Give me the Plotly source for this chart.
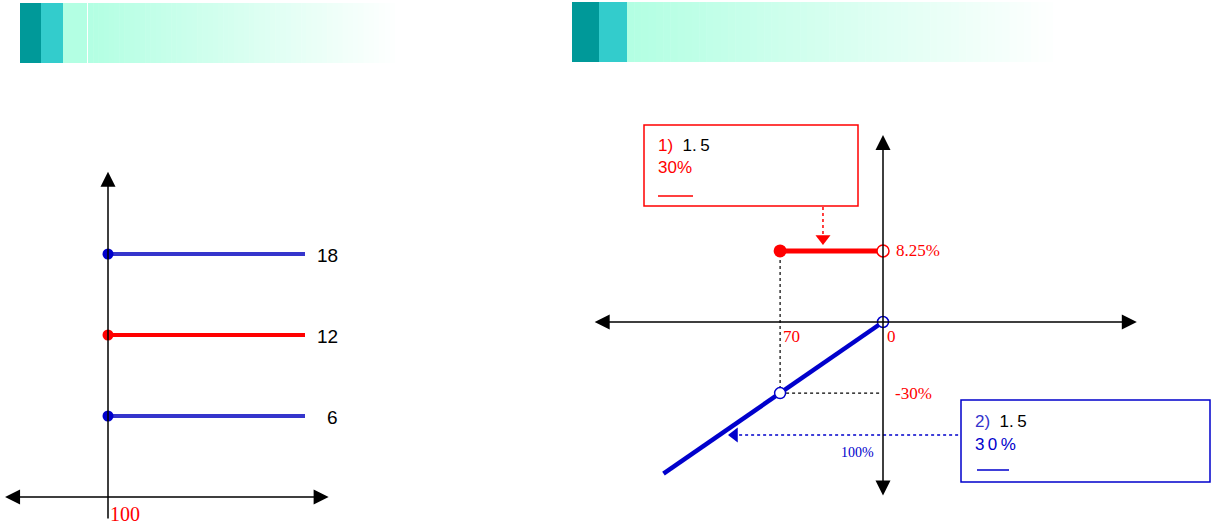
import plotly.graph_objects as go

W, H = 1215, 529

# ---- left panel data (schematic) ----
left_levels = [18, 12, 6]
left_line_colors = ['#3535CC', '#FF0000', '#3535CC']
left_dot_colors = ['#0000CC', '#FF0000', '#0000CC']
left_level_labels = ['18', '12', '6']
left_x_start = 100
left_x_end = 200
left_x_label = '100'
left_axis_x = [47, 212]      # horizontal axis extent
left_axis_y = [-1.7, 24.1]   # vertical axis extent

# ---- right panel data (schematic) ----
red_seg_x = [-30, 0]
red_seg_y = [30, 30]
blue_line_x = [0, -64]
blue_line_y = [0, -64]
blue_pt_x = [0, -30]
blue_pt_y = [0, -30]
right_axis_x = [-84.5, 74]
right_axis_y = [-73.8, 78.9]
guide_v_y = [26.2, -30]
guide_h_x = [-30, -1]
red_arrow_x = -17.5
red_arrow_y = [48.5, 35.2]
blue_arrow_y = -47.7
blue_arrow_x = [21.9, -43.3]
right_labels = {'ceil': '8.25%', 'k': '70', 'zero': '0', 'floor': '-30%', 'full': '100%'}

SERIF = 'Liberation Serif'
SANS = 'Liberation Sans'


def fx(p):
    return p / W


def fy(p):
    return 1 - p / H


fig = go.Figure()

# left panel: horizontal lines with start dots
for lv, lc, dc in zip(left_levels, left_line_colors, left_dot_colors):
    fig.add_trace(go.Scatter(x=[left_x_start, left_x_end], y=[lv, lv], mode='lines',
                             line=dict(color=lc, width=4), xaxis='x', yaxis='y'))
    fig.add_trace(go.Scatter(x=[left_x_start], y=[lv], mode='markers',
                             marker=dict(color=dc, size=11), xaxis='x', yaxis='y'))

# right panel: blue payoff line, red cap segment
fig.add_trace(go.Scatter(x=blue_line_x, y=blue_line_y, mode='lines',
                         line=dict(color='#0000CC', width=4.5), xaxis='x2', yaxis='y2'))
fig.add_trace(go.Scatter(x=[-30, -30], y=guide_v_y, mode='lines',
                         line=dict(color='black', width=1.2, dash='dot'), xaxis='x2', yaxis='y2'))
fig.add_trace(go.Scatter(x=guide_h_x, y=[-30, -30], mode='lines',
                         line=dict(color='black', width=1.2, dash='dot'), xaxis='x2', yaxis='y2'))
fig.add_trace(go.Scatter(x=red_seg_x, y=red_seg_y, mode='lines',
                         line=dict(color='#FF0000', width=5), xaxis='x2', yaxis='y2'))
fig.add_trace(go.Scatter(x=[red_seg_x[0]], y=[red_seg_y[0]], mode='markers',
                         marker=dict(color='#FF0000', size=13), xaxis='x2', yaxis='y2'))
fig.add_trace(go.Scatter(x=[red_seg_x[1]], y=[red_seg_y[1]], mode='markers',
                         marker=dict(color='white', size=12, line=dict(color='#FF0000', width=1.5)),
                         xaxis='x2', yaxis='y2'))
fig.add_trace(go.Scatter(x=blue_pt_x, y=blue_pt_y, mode='markers',
                         marker=dict(color='white', size=11, line=dict(color='#0000CC', width=1.5)),
                         xaxis='x2', yaxis='y2'))

# dotted pointer arrows
fig.add_trace(go.Scatter(x=[red_arrow_x, red_arrow_x], y=red_arrow_y, mode='lines',
                         line=dict(color='#FF0000', width=1.5, dash='dot'), xaxis='x2', yaxis='y2'))
fig.add_trace(go.Scatter(x=[red_arrow_x], y=[red_arrow_y[1]], mode='markers',
                         marker=dict(symbol='triangle-down', color='#FF0000', size=13),
                         xaxis='x2', yaxis='y2'))
fig.add_trace(go.Scatter(x=blue_arrow_x, y=[blue_arrow_y, blue_arrow_y], mode='lines',
                         line=dict(color='#0000CC', width=1.5, dash='dot'), xaxis='x2', yaxis='y2'))
fig.add_trace(go.Scatter(x=[blue_arrow_x[1]], y=[blue_arrow_y], mode='markers',
                         marker=dict(symbol='triangle-left', color='#0000CC', size=13),
                         xaxis='x2', yaxis='y2'))

annotations = []


def axis_arrow(xr, yr, x, y, ax, ay, both):
    annotations.append(dict(xref=xr, yref=yr, axref=xr, ayref=yr, x=x, y=y, ax=ax, ay=ay,
                            text='', showarrow=True, arrowhead=2, arrowsize=2, arrowwidth=1.5,
                            arrowcolor='black', startarrowhead=2, startarrowsize=2,
                            arrowside='end+start' if both else 'end', standoff=0, startstandoff=0))


axis_arrow('x', 'y', left_axis_x[1], 0, left_axis_x[0], 0, True)
axis_arrow('x', 'y', left_x_start, left_axis_y[1], left_x_start, left_axis_y[0], False)
axis_arrow('x2', 'y2', right_axis_x[1], 0, right_axis_x[0], 0, True)
axis_arrow('x2', 'y2', 0, right_axis_y[1], 0, right_axis_y[0], True)

# left labels
for lv, lab in zip(left_levels, left_level_labels):
    annotations.append(dict(xref='x', yref='y', x=left_x_end, y=lv, text=lab, showarrow=False,
                            xanchor='right', xshift=35, yshift=-1,
                            font=dict(family=SANS, size=19, color='black')))
annotations.append(dict(xref='x', yref='y', x=left_x_start, y=0, text=left_x_label, showarrow=False,
                        xanchor='left', yanchor='top', xshift=0, yshift=-4,
                        font=dict(family=SERIF, size=20, color='#FF0000')))

# right labels
annotations.append(dict(xref='x2', yref='y2', x=0, y=red_seg_y[1], text=right_labels['ceil'],
                        showarrow=False, xanchor='left', xshift=11,
                        font=dict(family=SERIF, size=17, color='#FF0000')))
annotations.append(dict(xref='x2', yref='y2', x=-30, y=0, text=right_labels['k'], showarrow=False,
                        xanchor='left', yanchor='top', xshift=1, yshift=-3,
                        font=dict(family=SERIF, size=17, color='#FF0000')))
annotations.append(dict(xref='x2', yref='y2', x=0, y=0, text=right_labels['zero'], showarrow=False,
                        xanchor='left', yanchor='top', xshift=2, yshift=-3,
                        font=dict(family=SERIF, size=17, color='#FF0000')))
annotations.append(dict(xref='x2', yref='y2', x=0, y=-30, text=right_labels['floor'], showarrow=False,
                        xanchor='left', xshift=10,
                        font=dict(family=SERIF, size=17, color='#FF0000')))
annotations.append(dict(xref='x2', yref='y2', x=0, y=blue_arrow_y, text=right_labels['full'],
                        showarrow=False, xanchor='right', yanchor='top', xshift=-7, yshift=-8,
                        font=dict(family=SERIF, size=14, color='#0000CC')))

# text boxes
annotations += [
    dict(xref='paper', yref='paper', x=fx(656), y=fy(146), xanchor='left', yanchor='middle',
         showarrow=False, text='<span style="color:#FF0000">1)</span>  1.\u20095',
         font=dict(family=SANS, size=17, color='black')),
    dict(xref='paper', yref='paper', x=fx(656), y=fy(167), xanchor='left', yanchor='middle',
         showarrow=False, text='30%', font=dict(family=SANS, size=17, color='#FF0000')),
    dict(xref='paper', yref='paper', x=fx(973), y=fy(421), xanchor='left', yanchor='middle',
         showarrow=False, text='<span style="color:#3333CC">2)</span>  1.\u20095',
         font=dict(family=SANS, size=17, color='black')),
    dict(xref='paper', yref='paper', x=fx(973), y=fy(444), xanchor='left', yanchor='middle',
         showarrow=False, text='3\u20090\u2009%', font=dict(family=SANS, size=17, color='#0000CC')),
]

shapes = [
    dict(type='rect', xref='paper', yref='paper', x0=fx(644), x1=fx(858), y0=fy(206), y1=fy(125),
         line=dict(color='#FF0000', width=1.5), fillcolor='rgba(0,0,0,0)'),
    dict(type='line', xref='paper', yref='paper', x0=fx(658), x1=fx(693), y0=fy(196), y1=fy(196),
         line=dict(color='#FF0000', width=1.5)),
    dict(type='rect', xref='paper', yref='paper', x0=fx(961), x1=fx(1210), y0=fy(482), y1=fy(400),
         line=dict(color='#0000CC', width=1.5), fillcolor='rgba(0,0,0,0)'),
    dict(type='line', xref='paper', yref='paper', x0=fx(977), x1=fx(1009), y0=fy(470), y1=fy(470),
         line=dict(color='#0000CC', width=1.5)),
]


# header bars
def header(x_dark, x_mid, x_light, x_grad, x_end, top, bottom, gap):
    blocks = [(x_dark, x_mid, '#009999'), (x_mid, x_light, '#33CCCC')]
    if x_light < x_grad:
        blocks.append((x_light, x_grad - gap, '#B3FFE3'))
    for a, b, c in blocks:
        shapes.append(dict(type='rect', xref='paper', yref='paper', x0=fx(a), x1=fx(b),
                           y0=fy(bottom), y1=fy(top), line=dict(width=0), fillcolor=c, layer='below'))
    n = 60
    step = (x_end - x_grad) / n
    for i in range(n):
        t = i / (n - 1)
        r = int(179 + (255 - 179) * t)
        b = int(227 + (255 - 227) * t)
        shapes.append(dict(type='rect', xref='paper', yref='paper',
                           x0=fx(x_grad + i * step), x1=fx(x_grad + (i + 1) * step + 0.5),
                           y0=fy(bottom), y1=fy(top), line=dict(width=0),
                           fillcolor=f'rgb({r},255,{b})', layer='below'))


header(20, 41, 63, 88, 400, 3, 63, 1)
header(572, 599, 627, 627, 1060, 2, 62, 0)

# axes: pixel-matched schematic scales
lsx, lsy = 1.97, 13.5
rsx, rsy = 3.43, 2.37
fig.update_layout(
    width=W, height=H,
    margin=dict(l=0, r=0, t=0, b=0),
    showlegend=False,
    paper_bgcolor='white', plot_bgcolor='rgba(0,0,0,0)',
    xaxis=dict(domain=[0, fx(340)], range=[100 - 108 / lsx, 100 + (340 - 108) / lsx], visible=False),
    yaxis=dict(domain=[0, fy(140)], range=[-(529 - 497) / lsy, (497 - 140) / lsy], visible=False),
    xaxis2=dict(domain=[fx(560), 1], range=[(560 - 883) / rsx, (1215 - 883) / rsx], visible=False,
                anchor='y2'),
    yaxis2=dict(domain=[0, fy(80)], range=[-(529 - 322) / rsy, (322 - 80) / rsy], visible=False,
                anchor='x2'),
    annotations=annotations,
    shapes=shapes,
)

fig.write_html("out.html", config={'displayModeBar': False},
               post_script="document.body.style.margin='0';")
